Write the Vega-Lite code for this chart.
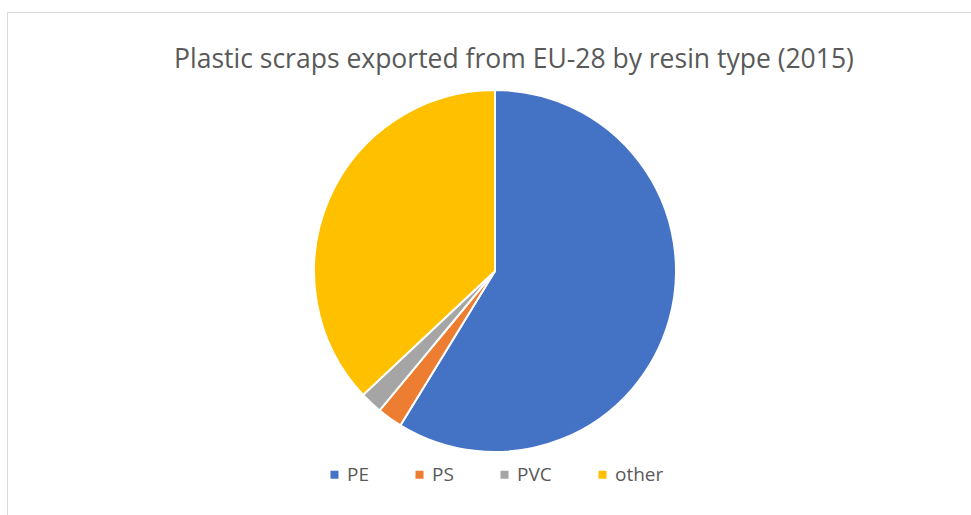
{
  "$schema": "https://vega.github.io/schema/vega-lite/v6.json",
  "width": 976,
  "height": 518,
  "autosize": {"type": "none"},
  "padding": {"left": 7, "top": 12, "right": -12, "bottom": -15},
  "background": "white",
  "view": {"stroke": "#d9d9d9", "strokeWidth": 1},
  "title": {
    "text": "Plastic scraps exported from EU-28 by resin type (2015)",
    "font": "Open Sans",
    "fontSize": 26.5,
    "fontWeight": "normal",
    "color": "#595959",
    "anchor": "middle",
    "baseline": "alphabetic",
    "offset": -58,
    "dy": 24,
    "dx": 19
  },
  "data": {
    "values": [
      {"resin": "PE", "share": 58.75, "order": 1},
      {"resin": "PS", "share": 2.25, "order": 2},
      {"resin": "PVC", "share": 2.0, "order": 3},
      {"resin": "other", "share": 37.0, "order": 4}
    ]
  },
  "mark": {"type": "arc", "outerRadius": 181, "stroke": "white", "strokeWidth": 2},
  "encoding": {
    "theta": {"field": "share", "type": "quantitative", "stack": true},
    "order": {"field": "order", "type": "quantitative"},
    "color": {
      "field": "resin",
      "type": "nominal",
      "sort": ["PE", "PS", "PVC", "other"],
      "scale": {"domain": ["PE", "PS", "PVC", "other"], "range": ["#4472C4", "#ED7D31", "#A5A5A5", "#FFC000"]},
      "legend": {
        "title": null,
        "orient": "none",
        "direction": "horizontal",
        "legendX": 318,
        "legendY": 453,
        "symbolType": "square",
        "symbolSize": 64,
        "symbolStrokeWidth": 0,
        "labelFont": "Open Sans",
        "labelFontSize": 19,
        "labelColor": "#595959",
        "columnPadding": 41,
        "labelOffset": 3
      }
    }
  }
}
